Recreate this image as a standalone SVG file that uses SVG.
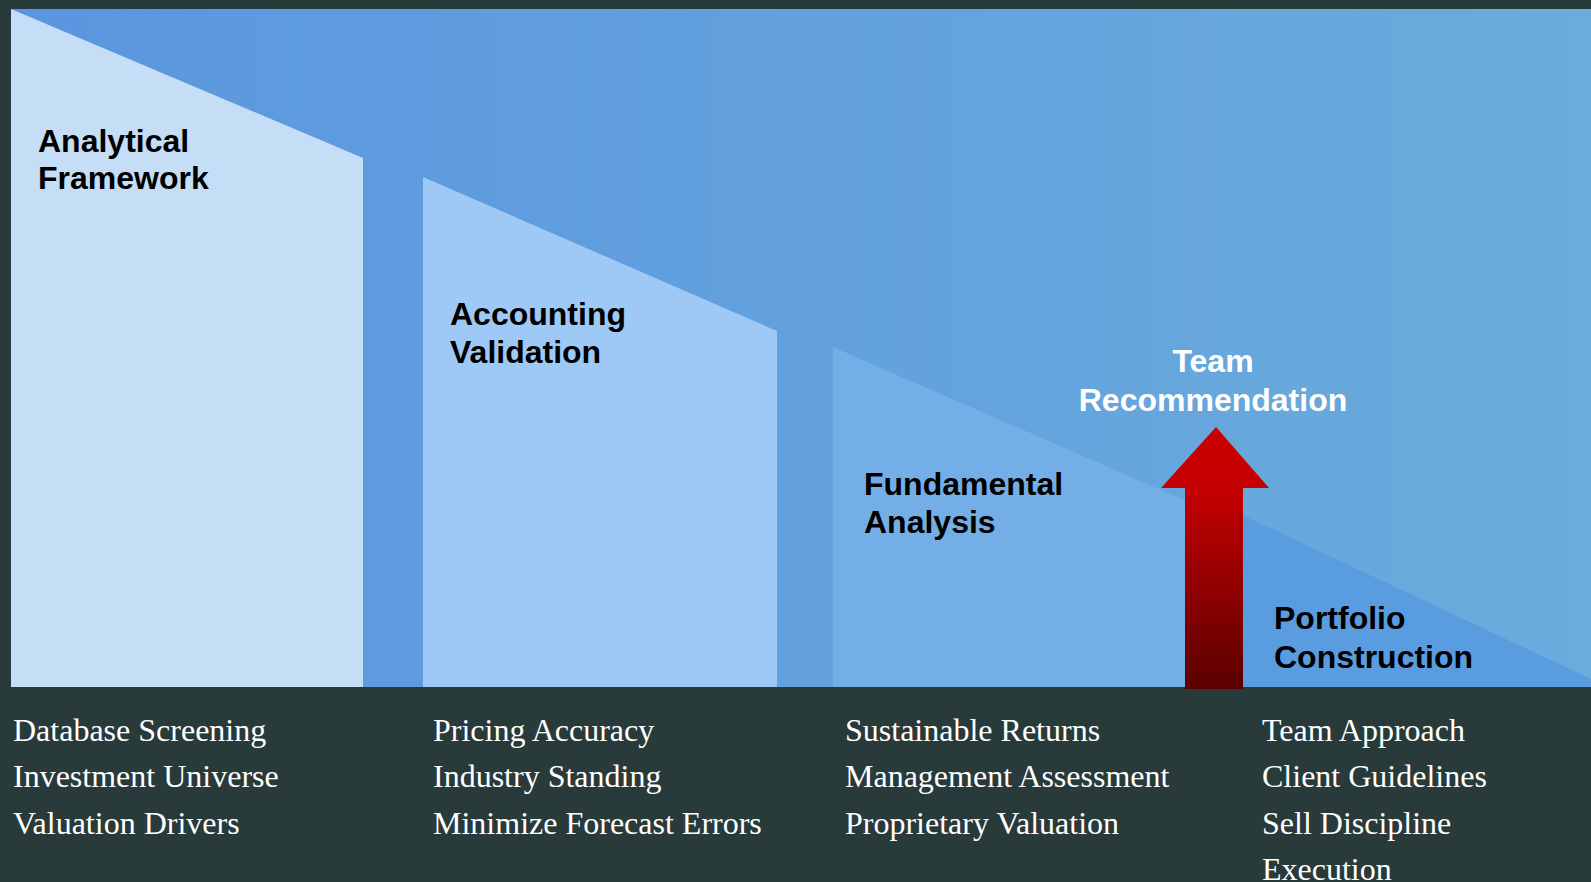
<svg xmlns="http://www.w3.org/2000/svg" width="1591" height="882" viewBox="0 0 1591 882">
  <defs>
    <linearGradient id="bg" x1="0" y1="0" x2="1" y2="0">
      <stop offset="0" stop-color="#5a96df"/>
      <stop offset="1" stop-color="#6aacdc"/>
    </linearGradient>
    <linearGradient id="arrowGrad" gradientUnits="userSpaceOnUse" x1="0" y1="427" x2="0" y2="689">
      <stop offset="0" stop-color="#cc0000"/>
      <stop offset="0.25" stop-color="#c40000"/>
      <stop offset="1" stop-color="#5a0000"/>
    </linearGradient>
    <style>
      .head { font-family: "Liberation Sans", Arial, sans-serif; font-weight: bold; font-size: 32px; fill: #000000; }
      .headw { font-family: "Liberation Sans", Arial, sans-serif; font-weight: bold; font-size: 32px; fill: #ffffff; text-anchor: middle; }
      .item { font-family: "Liberation Serif", "Times New Roman", serif; font-size: 32px; fill: #ffffff; }
    </style>
  </defs>
  <rect x="0" y="0" width="1591" height="882" fill="#283a3a"/>
  <rect x="11" y="9" width="1580" height="678" fill="url(#bg)"/>

  <g id="analytical-framework">
    <polygon points="11,9 363,158 363,687 11,687" fill="#c5ddf5"/>
    <text class="head" x="38" y="152">Analytical</text>
    <text class="head" x="38" y="189">Framework</text>
  </g>
  <g id="accounting-validation">
    <polygon points="423,177 777,331 777,687 423,687" fill="#9ec8f5"/>
    <text class="head" x="450" y="325">Accounting</text>
    <text class="head" x="450" y="363">Validation</text>
  </g>
  <g id="fundamental-analysis">
    <polygon points="833,347 1200,507 1200,687 833,687" fill="#74aee6"/>
    <text class="head" x="864" y="495">Fundamental</text>
    <text class="head" x="864" y="533">Analysis</text>
  </g>
  <g id="portfolio-construction">
    <polygon points="1200,495 1591,679 1591,687 1200,687" fill="#5a9ce0"/>
    <text class="head" x="1274" y="629">Portfolio</text>
    <text class="head" x="1274" y="668">Construction</text>
  </g>

  <g id="connectors">
    <polygon id="team-arrow" points="1216,427 1269,488 1243,488 1243,689 1185,689 1185,488 1161,488" fill="url(#arrowGrad)"/>
  </g>

  <g id="team-recommendation">
    <text class="headw" x="1213" y="372">Team</text>
    <text class="headw" x="1213" y="411">Recommendation</text>
  </g>

  <g id="list-1">
    <text class="item" x="13" y="741">Database Screening</text>
    <text class="item" x="13" y="787">Investment Universe</text>
    <text class="item" x="13" y="834">Valuation Drivers</text>
  </g>
  <g id="list-2">
    <text class="item" x="433" y="741">Pricing Accuracy</text>
    <text class="item" x="433" y="787">Industry Standing</text>
    <text class="item" x="433" y="834">Minimize Forecast Errors</text>
  </g>
  <g id="list-3">
    <text class="item" x="845" y="741">Sustainable Returns</text>
    <text class="item" x="845" y="787">Management Assessment</text>
    <text class="item" x="845" y="834">Proprietary Valuation</text>
  </g>
  <g id="list-4">
    <text class="item" x="1262" y="741">Team Approach</text>
    <text class="item" x="1262" y="787">Client Guidelines</text>
    <text class="item" x="1262" y="834">Sell Discipline</text>
    <text class="item" x="1262" y="880">Execution</text>
  </g>
</svg>
